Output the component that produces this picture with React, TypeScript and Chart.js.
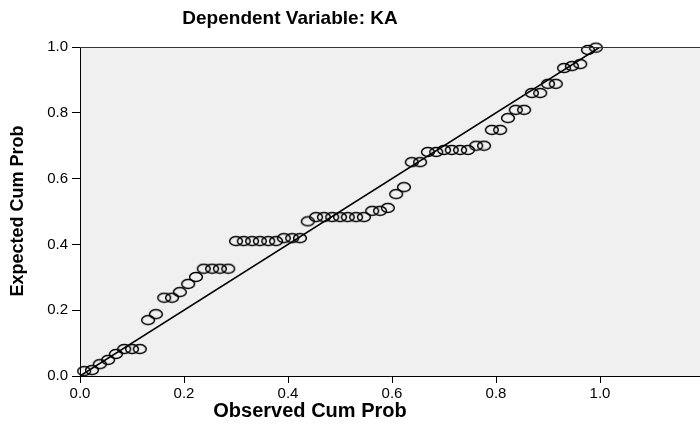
import { useEffect, useRef } from 'react';
import { Chart, registerables } from 'chart.js';

Chart.register(...registerables);

const chartTitle = 'Dependent Variable: KA';
const xAxisTitle = 'Observed Cum Prob';
const yAxisTitle = 'Expected Cum Prob';

const observedCumProb = [
  0.008, 0.023, 0.038, 0.054, 0.069, 0.085, 0.100, 0.115, 0.131, 0.146,
  0.162, 0.177, 0.192, 0.208, 0.223, 0.238, 0.254, 0.269, 0.285, 0.300,
  0.315, 0.331, 0.346, 0.362, 0.377, 0.392, 0.408, 0.423, 0.438, 0.454,
  0.469, 0.485, 0.500, 0.515, 0.531, 0.546, 0.562, 0.577, 0.592, 0.608,
  0.623, 0.638, 0.654, 0.669, 0.685, 0.700, 0.715, 0.731, 0.746, 0.762,
  0.777, 0.792, 0.808, 0.823, 0.838, 0.854, 0.869, 0.885, 0.900, 0.915,
  0.931, 0.946, 0.962, 0.977, 0.992,
];

const expectedCumProb = [
  0.015, 0.018, 0.036, 0.049, 0.067, 0.082, 0.082, 0.082, 0.170, 0.188,
  0.238, 0.238, 0.255, 0.280, 0.301, 0.326, 0.326, 0.326, 0.326, 0.410,
  0.410, 0.410, 0.410, 0.410, 0.410, 0.419, 0.419, 0.419, 0.470, 0.483,
  0.483, 0.483, 0.483, 0.483, 0.483, 0.483, 0.502, 0.502, 0.511, 0.553,
  0.574, 0.650, 0.650, 0.681, 0.681, 0.687, 0.687, 0.687, 0.687, 0.700,
  0.700, 0.748, 0.748, 0.784, 0.809, 0.809, 0.860, 0.860, 0.888, 0.888,
  0.936, 0.942, 0.948, 0.991, 0.998,
];

const referenceLineX = [0, 1];
const referenceLineY = [0, 1];

const xMin = 0;
const xMax = 1.1923;
const yMin = 0;
const yMax = 1;
const tickStep = 0.2;

const FONT = '"Liberation Sans", Arial, Helvetica, sans-serif';

export default function App() {
  const ref = useRef<HTMLCanvasElement | null>(null);

  useEffect(() => {
    if (!ref.current) return;

    const marker = document.createElement('canvas');
    marker.width = 16;
    marker.height = 12;
    const mc = marker.getContext('2d');
    if (mc) {
      mc.strokeStyle = '#000';
      mc.lineWidth = 1.5;
      mc.beginPath();
      mc.ellipse(8, 6, 6.4, 4.5, 0, 0, Math.PI * 2);
      mc.stroke();
    }

    const decor = {
      id: 'decor',
      beforeDraw(chart: any) {
        const { ctx, chartArea } = chart;
        ctx.save();
        ctx.fillStyle = '#f0f0f0';
        ctx.fillRect(chartArea.left, chartArea.top, chartArea.right - chartArea.left, chartArea.bottom - chartArea.top);
        ctx.restore();
      },
      afterDraw(chart: any) {
        const { ctx, chartArea } = chart;
        ctx.save();
        ctx.strokeStyle = '#333';
        ctx.lineWidth = 1;
        ctx.beginPath();
        ctx.moveTo(chartArea.left, chartArea.top + 0.5);
        ctx.lineTo(chartArea.right, chartArea.top + 0.5);
        ctx.stroke();

        ctx.fillStyle = '#000';
        ctx.textAlign = 'center';
        ctx.textBaseline = 'middle';
        ctx.font = `bold 19px ${FONT}`;
        ctx.fillText(chartTitle, 290, 19);
        ctx.font = `bold 20px ${FONT}`;
        ctx.fillText(xAxisTitle, 310, 411);
        ctx.font = `bold 18px ${FONT}`;
        ctx.translate(18, 211);
        ctx.rotate(-Math.PI / 2);
        ctx.fillText(yAxisTitle, 0, 0);
        ctx.restore();
      },
    };

    const chart = new Chart(ref.current, {
      type: 'scatter',
      data: {
        datasets: [
          {
            type: 'line',
            data: referenceLineX.map((x, i) => ({ x, y: referenceLineY[i] })),
            borderColor: '#000',
            borderWidth: 1.5,
            pointRadius: 0,
            fill: false,
          } as any,
          {
            data: observedCumProb.map((x, i) => ({ x, y: expectedCumProb[i] })),
            pointStyle: marker as any,
            pointRadius: 6,
            showLine: false,
            clip: false as any,
          },
        ],
      },
      options: {
        responsive: false,
        animation: false,
        layout: { autoPadding: false, padding: { top: 47, right: 0, bottom: 0, left: 0 } },
        plugins: {
          legend: { display: false },
          tooltip: { enabled: false },
          title: { display: false },
        },
        scales: {
          x: {
            type: 'linear',
            min: xMin,
            max: xMax,
            afterFit: (s: any) => { s.height = 51; s.paddingRight = 0; s.paddingLeft = 0; },
            afterBuildTicks: (s: any) => { s.ticks = s.ticks.filter((t: any) => t.value <= 1.0001); },
            ticks: {
              stepSize: tickStep,
              includeBounds: false,
              color: '#000',
              font: { family: FONT, size: 15 },
              padding: 2,
              maxRotation: 0,
              callback: (v: any) => Number(v).toFixed(1),
            },
            grid: { drawOnChartArea: false, drawTicks: true, tickLength: 7, color: '#000', lineWidth: 1 },
            border: { display: true, color: '#000', width: 1 },
          },
          y: {
            type: 'linear',
            min: yMin,
            max: yMax,
            afterFit: (s: any) => { s.width = 80; s.paddingTop = 0; s.paddingBottom = 0; },
            ticks: {
              stepSize: tickStep,
              color: '#000',
              font: { family: FONT, size: 15 },
              padding: 4,
              callback: (v: any) => Number(v).toFixed(1),
            },
            grid: { drawOnChartArea: false, drawTicks: true, tickLength: 8, color: '#000', lineWidth: 1 },
            border: { display: true, color: '#000', width: 1 },
          },
        },
      } as any,
      plugins: [decor],
    });

    return () => chart.destroy();
  }, []);

  return (
    <div style={{ position: 'absolute', left: 0, top: 0, width: 700, height: 427, background: '#fff' }}>
      <canvas ref={ref} width={700} height={427} style={{ display: 'block' }} />
    </div>
  );
}
